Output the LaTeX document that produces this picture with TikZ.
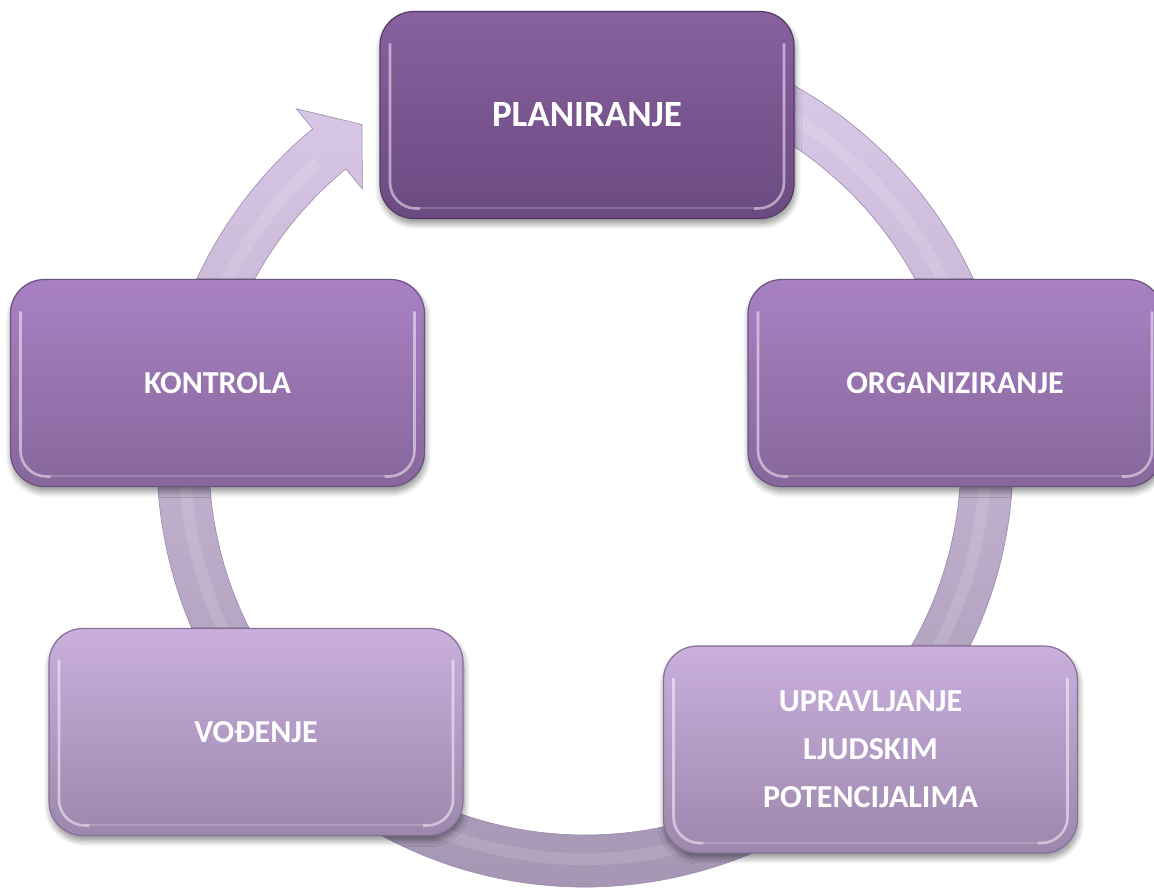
\documentclass[tikz,border=0pt]{standalone}
\usepackage{fontspec}
\newfontfamily\boxfont{Carlito}
\usetikzlibrary{shadows.blur,calc}
\definecolor{ringtop}{HTML}{DECDEC}
\definecolor{ringmid}{HTML}{C6B3D9}
\definecolor{ringbot}{HTML}{A394B1}
\definecolor{ringedge}{HTML}{9C8AAC}
\definecolor{darktop}{HTML}{88619F}
\definecolor{darkbot}{HTML}{6B4A81}
\definecolor{darkedge}{HTML}{553A69}
\definecolor{midtop}{HTML}{A981C3}
\definecolor{midbot}{HTML}{86679B}
\definecolor{midedge}{HTML}{6C5280}
\definecolor{lighttop}{HTML}{CAAFDD}
\definecolor{lightbot}{HTML}{9D87AD}
\definecolor{lightedge}{HTML}{857096}
\begin{document}
\begin{tikzpicture}[x=1pt,y=1pt,
  stage/.style={rectangle, rounded corners=34pt, minimum width=414pt,
    minimum height=207pt, line width=1.2pt, text=white, align=center,
    font=\boxfont\bfseries\fontsize{32}{48}\selectfont,
    blur shadow={shadow xshift=1pt, shadow yshift=-5pt, shadow blur steps=10,
      shadow opacity=45, shadow blur radius=6pt},
    path picture={
      \draw[white, opacity=.5, line width=2.6pt, rounded corners=26pt]
        ([xshift=10pt,yshift=-32pt]path picture bounding box.north west)
        -- ([xshift=10pt,yshift=10pt]path picture bounding box.south west)
        -- ([xshift=40pt,yshift=10pt]path picture bounding box.south west);
      \draw[white, opacity=.5, line width=2.6pt, rounded corners=26pt]
        ([xshift=-10pt,yshift=-32pt]path picture bounding box.north east)
        -- ([xshift=-10pt,yshift=10pt]path picture bounding box.south east)
        -- ([xshift=-40pt,yshift=10pt]path picture bounding box.south east);
      \draw[white, opacity=.18, line width=2pt]
        ([xshift=40pt,yshift=10pt]path picture bounding box.south west)
        -- ([xshift=-40pt,yshift=10pt]path picture bounding box.south east);
    }},
  darkbox/.style={stage, top color=darktop, bottom color=darkbot, draw=darkedge},
  midbox/.style={stage, top color=midtop, bottom color=midbot, draw=midedge},
  lightbox/.style={stage, top color=lighttop, bottom color=lightbot, draw=lightedge},
  ring/.style={top color=ringtop, middle color=ringmid, bottom color=ringbot,
    draw=ringedge, line width=.6pt}
]
\useasboundingbox (0,0) rectangle (1154,889);
\coordinate (c) at (585,430);
% circular arrow
\shade[ring]
  ($(c)+(100:428)$) arc[start angle=100, end angle=-230.5, radius=428pt]
  -- ($(c)+(129.5:454)$) -- ($(c)+(123.7:402)$) -- ($(c)+(129.5:350)$)
  -- ($(c)+(129.5:376)$) arc[start angle=129.5, end angle=460, radius=376pt]
  -- cycle;
\draw[white, opacity=.12, line width=12pt]
  ($(c)+(100:400)$) arc[start angle=100, end angle=-228, radius=400pt];
% stages
\node[darkbox]  (plan) at (587,774) {\fontsize{37}{48}\selectfont PLANIRANJE};
\node[midbox]   (org)  at (955,506) {ORGANIZIRANJE};
\node[lightbox] (upr)  at (870.5,139.5) {UPRAVLJANJE\\LJUDSKIM\\POTENCIJALIMA};
\node[lightbox] (vod)  at (256,157) {VOĐENJE};
\node[midbox]   (kon)  at (217.5,506) {KONTROLA};
\end{tikzpicture}
\end{document}
